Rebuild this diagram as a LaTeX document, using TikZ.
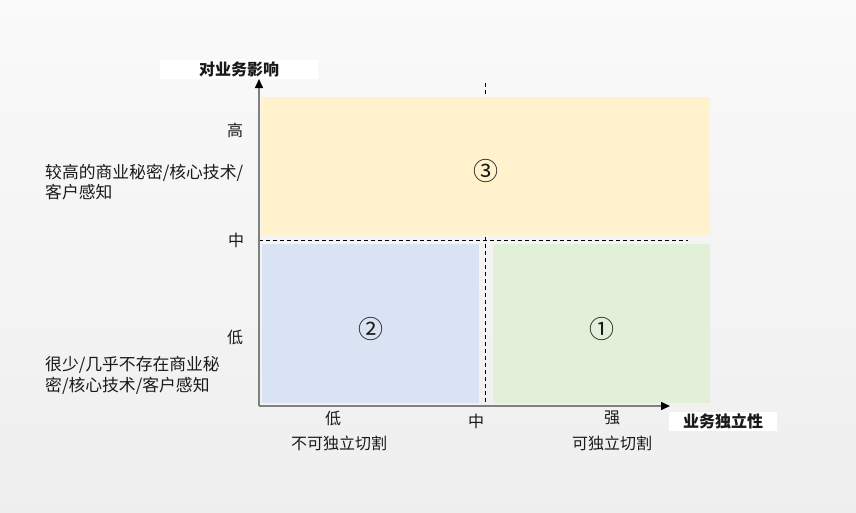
\documentclass[tikz,border=0pt]{standalone}
\usepackage{fontspec}
\usepackage{xcolor}
\usepackage{tikz}
\usetikzlibrary{positioning,arrows.meta}
\newfontfamily\cjk{Noto Sans CJK SC}
\definecolor{qmyellow}{RGB}{255,242,204}
\definecolor{qmblue}{RGB}{218,227,243}
\definecolor{qmgreen}{RGB}{226,240,217}
\definecolor{qmaxis}{RGB}{128,128,128}
\definecolor{qmtext}{RGB}{26,26,26}

\begin{document}
\begin{tikzpicture}[x=1pt, y=-1pt]
    % Define styles
    \tikzset{
        txt/.style={font=\cjk\fontsize{16}{20}\selectfont, text=qmtext, inner sep=0pt},
        zone/.style={minimum width=#1, inner sep=0pt},
        mark num/.style={txt, font=\cjk\fontsize{25}{25}\selectfont},
        axistitle/.style={txt, fill=white, font=\cjk\bfseries\fontsize{16}{20}\selectfont, minimum height=19pt},
        axisline/.style={draw=qmaxis, line width=1.5pt, -{Triangle[length=9pt, width=8pt, color=black]}},
        divider/.style={draw=black, line width=0.9pt, dash pattern=on 4pt off 3pt}
    }

    % Background
    \useasboundingbox (0,0) rectangle (856,512);
    \shade[top color=gray!4, bottom color=gray!13] (0,0) rectangle (856,512);

    % Dividers
    \coordinate (vtop) at (485,83);
    \coordinate (vbot) at (485,406);
    \coordinate (hleft) at (259,240);
    \coordinate (hright) at (688,240);
    \draw[divider] (vtop) -- (vbot);
    \draw[divider] (hleft) -- (hright);

    % Zones
    \node[zone=449pt, minimum height=138pt, fill=qmyellow] (high) at (485.5,166) {};
    \node[zone=217pt, minimum height=159pt, fill=qmblue] (lowdep) at (370.5,323.5) {};
    \node[zone=217pt, minimum height=159pt, fill=qmgreen] (lowind) at (601.5,323.5) {};
    \node[mark num] (n3) at ([yshift=-5pt]high.center) {③};
    \node[mark num] (n2) at ([yshift=-5pt]lowdep.center) {②};
    \node[mark num] (n1) at ([yshift=-5pt]lowind.center) {①};

    % Axes
    \coordinate (origin) at (259,406);
    \coordinate (ytip) at (259,79);
    \coordinate (xtip) at (670,406);
    \draw[axisline] (origin) -- (ytip);
    \draw[axisline] (origin) -- (xtip);

    % Axis titles
    \node[axistitle, minimum width=158pt] (ytitle) at (239,69.5) {对业务影响};
    \node[axistitle, minimum width=108pt] (xtitle) at (723,421.5) {业务独立性};

    % Y ticks
    \node[txt] (yhigh) at (235,130) {高};
    \node[txt] (ymid) at (236,240) {中};
    \node[txt] (ylow) at (235,337) {低};
    \node[txt, anchor=west, align=left, font=\cjk\fontsize{16.8}{20}\selectfont] (yhighnote) at (45,182) {较高的商业秘密/核心技术/\\客户感知};
    \node[txt, anchor=west, align=left, font=\cjk\fontsize{16.8}{20.5}\selectfont] (ylownote) at (45,375.5) {很少/几乎不存在商业秘\\密/核心技术/客户感知};

    % X ticks
    \node[txt] (xlow) at (333,418) {低};
    \node[txt] (xmid) at (476,421) {中};
    \node[txt] (xhigh) at (612,418) {强};
    \node[txt] (xlownote) at (339,443) {不可独立切割};
    \node[txt] (xhighnote) at (612,443) {可独立切割};
\end{tikzpicture}
\end{document}
